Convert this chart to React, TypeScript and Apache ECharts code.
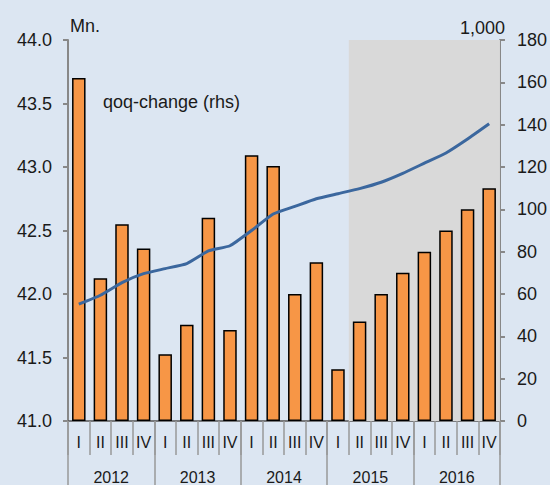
import React, { useEffect, useRef } from 'react';
import * as echarts from 'echarts';

const quarters = ['I', 'II', 'III', 'IV', 'I', 'II', 'III', 'IV', 'I', 'II', 'III', 'IV', 'I', 'II', 'III', 'IV', 'I', 'II', 'III', 'IV'];
const years = ['2012', '2013', '2014', '2015', '2016'];
// qoq-change (rhs), thousands
const qoqChange = [162, 67.5, 93, 81.5, 31.5, 45.5, 96, 43, 125.5, 120.5, 60, 75, 24.5, 47, 60, 70, 80, 90, 100, 110];
// Level (lhs), millions
const level = [41.92, 41.99, 42.09, 42.16, 42.2, 42.24, 42.34, 42.38, 42.5, 42.63, 42.69, 42.75, 42.79, 42.83, 42.88, 42.95, 43.03, 43.11, 43.22, 43.34];
// shaded (forecast) range, in quarter index units
const shadeFrom = 13;
const shadeTo = 20;

const FONT = "'Liberation Sans', Arial, sans-serif";

export default function App() {
  const ref = useRef<HTMLDivElement>(null);
  useEffect(() => {
    if (!ref.current) return;
    const chart = echarts.init(ref.current, undefined, { renderer: 'svg' });
    chart.setOption({
      animation: false,
      backgroundColor: '#DCE6F2',
      textStyle: { fontFamily: FONT },
      grid: { left: 68, right: 50, top: 40, bottom: 64, containLabel: false },
      xAxis: [
        {
          type: 'category',
          data: quarters,
          position: 'bottom',
          axisLine: { show: true, lineStyle: { color: '#555', width: 1.5 } },
          axisTick: { show: true, length: 34, lineStyle: { color: '#999', width: 1.5 } },
          axisLabel: { fontSize: 16, color: '#1a1a1a', margin: 13, fontFamily: FONT, interval: 0 },
          splitLine: { show: false },
        },
        {
          type: 'category',
          data: years,
          position: 'bottom',
          axisLine: { show: false },
          axisTick: { show: true, length: 64, lineStyle: { color: '#999', width: 1.5 } },
          axisLabel: { fontSize: 16, color: '#1a1a1a', margin: 48, fontFamily: FONT, interval: 0 },
          splitLine: { show: false },
        },
        {
          type: 'value',
          min: 0,
          max: 20,
          show: false,
          splitLine: { show: false },
        },
      ],
      yAxis: [
        {
          type: 'value',
          min: 41,
          max: 44,
          interval: 0.5,
          position: 'left',
          axisLine: { show: true, lineStyle: { color: '#888', width: 2 } },
          axisTick: { show: true, length: 5, lineStyle: { color: '#888', width: 2 } },
          axisLabel: { fontSize: 18, color: '#1a1a1a', margin: 16, fontFamily: FONT, formatter: (v: number) => v.toFixed(1) },
          splitLine: { show: false },
        },
        {
          type: 'value',
          min: 0,
          max: 180,
          interval: 20,
          position: 'right',
          axisLine: { show: true, lineStyle: { color: '#888', width: 2 } },
          axisTick: { show: true, length: 5, lineStyle: { color: '#888', width: 2 } },
          axisLabel: { fontSize: 18, color: '#1a1a1a', margin: 17, fontFamily: FONT },
          splitLine: { show: false },
        },
      ],
      series: [
        {
          type: 'line',
          name: 'shade',
          xAxisIndex: 2,
          yAxisIndex: 0,
          data: [],
          z: 0,
          silent: true,
          markArea: {
            silent: true,
            itemStyle: { color: '#D9D9D9' },
            data: [[{ xAxis: shadeFrom }, { xAxis: shadeTo }]],
          },
        },
        {
          type: 'bar',
          name: 'qoq-change (rhs)',
          xAxisIndex: 0,
          yAxisIndex: 1,
          data: qoqChange,
          barWidth: 13.5,
          itemStyle: { color: '#F79646', borderColor: '#000', borderWidth: 1.5 },
          z: 2,
        },
        {
          type: 'line',
          name: 'Level',
          xAxisIndex: 0,
          yAxisIndex: 0,
          data: level,
          showSymbol: false,
          symbol: 'none',
          smooth: 0.15,
          lineStyle: { color: '#3B679E', width: 3 },
          z: 3,
        },
      ],
      graphic: [
        { type: 'text', left: 70, top: 17, style: { text: 'Mn.', fontSize: 18, fill: '#1a1a1a', fontFamily: FONT } },
        { type: 'text', right: 45, top: 19, style: { text: '1,000', fontSize: 18, fill: '#1a1a1a', fontFamily: FONT } },
        { type: 'text', left: 103, top: 93, style: { text: 'qoq-change (rhs)', fontSize: 18, fill: '#1a1a1a', fontFamily: FONT } },
        { type: 'text', left: 352, top: 134, style: { text: 'Level', fontSize: 18, fill: '#1a1a1a', fontFamily: FONT } },
      ],
    });
    return () => chart.dispose();
  }, []);
  return <div ref={ref} style={{ position: 'fixed', left: 0, top: 0, width: 550, height: 485 }} />;
}
